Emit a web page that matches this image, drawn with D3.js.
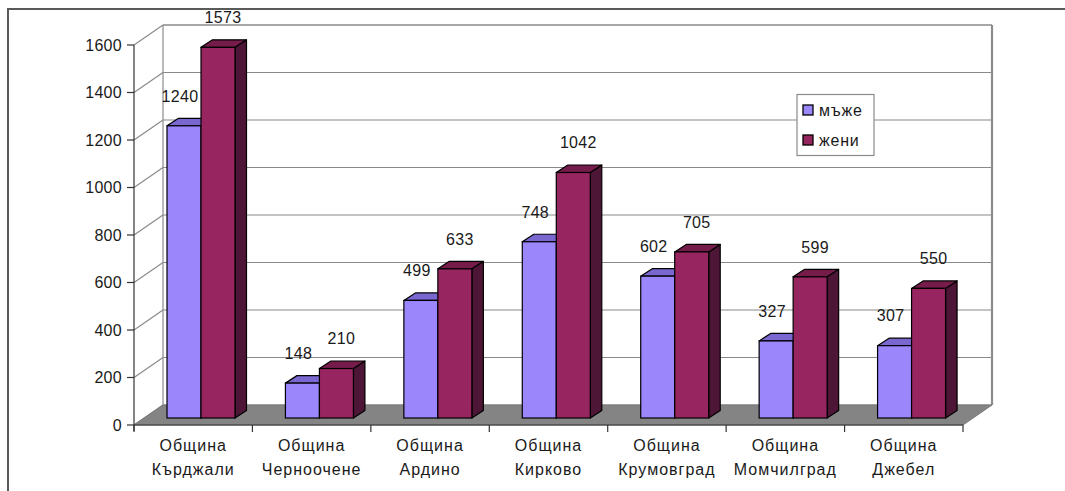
<!DOCTYPE html>
<html><head><meta charset="utf-8">
<script src="https://cdnjs.cloudflare.com/ajax/libs/d3/7.8.5/d3.min.js"></script>
<style>
html,body{margin:0;padding:0;background:#fff;}
svg text{font-family:"Liberation Sans",Arial,sans-serif;fill:#1a1a1a;}
</style></head>
<body>
<script>
const categories = ["Община Кърджали","Община Черноочене","Община Ардино","Община Кирково","Община Крумовград","Община Момчилград","Община Джебел"];
const seriesNames = ["мъже","жени"];
const men =   [1240,148,499,748,602,327,307];
const women = [1573,210,633,1042,705,599,550];
const yTicks = [0,200,400,600,800,1000,1200,1400,1600];

const W=1065,H=491;
const svg=d3.select("body").append("svg").attr("width",W).attr("height",H);

// layout
const fx0=134, fx1=963, fy0=425, plotH=380;
const wallDx=29, wallDy=-20;
const barSx=10, barSy=-7, barDx=11.5, barDy=-7.5;
const barOffset=23;

const y=d3.scaleLinear().domain([0,1600]).range([0,plotH]);
const yBar=d3.scaleLinear().domain([0,1600]).range([0,377]);
const x0=d3.scaleBand().domain(categories).range([fx0,fx1]);
const x1=d3.scaleBand().domain(seriesNames).range([0,68]);

const colors={
  "мъже":{front:"#9b86fc",top:"#7a68d0",side:"#4f4390"},
  "жени":{front:"#962560",top:"#751c4b",side:"#4d1536"}
};

// outer frame
svg.append("path").attr("d",`M8,${H} L8,9 L${W},9`).attr("fill","none").attr("stroke","#5a5a5a").attr("stroke-width",2);

// back wall gridlines
const g=svg.append("g");
yTicks.forEach(t=>{
  const yb=fy0+wallDy-y(t);
  g.append("line").attr("x1",fx0+wallDx).attr("x2",fx1+wallDx).attr("y1",yb).attr("y2",yb)
   .attr("stroke","#8a8a8a").attr("stroke-width",t===1600?1.6:1.2);
  g.append("line").attr("x1",fx0).attr("y1",fy0-y(t)).attr("x2",fx0+wallDx).attr("y2",yb)
   .attr("stroke","#8a8a8a").attr("stroke-width",1.2);
});
g.append("line").attr("x1",fx0+wallDx).attr("x2",fx0+wallDx).attr("y1",fy0+wallDy-plotH).attr("y2",fy0+wallDy).attr("stroke","#8a8a8a").attr("stroke-width",1.2);
g.append("line").attr("x1",fx1+wallDx).attr("x2",fx1+wallDx).attr("y1",fy0+wallDy-plotH).attr("y2",fy0+wallDy).attr("stroke","#8c8c8c").attr("stroke-width",2.2);

// floor
svg.append("polygon").attr("points",[[fx0,fy0],[fx1,fy0],[fx1+wallDx,fy0+wallDy],[fx0+wallDx,fy0+wallDy]].map(p=>p.join(",")).join(" "))
  .attr("fill","#848484").attr("stroke","#7a7a7a").attr("stroke-width",1);

// axes
const yAxis=svg.append("g");
yAxis.append("line").attr("x1",fx0).attr("x2",fx0).attr("y1",fy0-plotH).attr("y2",fy0+6).attr("stroke","#333").attr("stroke-width",1.2);
yTicks.forEach(t=>{
  const yy=fy0-y(t);
  yAxis.append("line").attr("x1",fx0-7).attr("x2",fx0).attr("y1",yy).attr("y2",yy).attr("stroke","#333").attr("stroke-width",1.2);
  yAxis.append("text").attr("x",fx0-12).attr("y",yy).attr("dy","0.36em").attr("text-anchor","end")
    .style("font-size","16px").style("letter-spacing","0.3px").text(t);
});
const xAxis=svg.append("g");
xAxis.append("line").attr("x1",fx0).attr("x2",fx1).attr("y1",fy0).attr("y2",fy0).attr("stroke","#333").attr("stroke-width",1.2);
categories.forEach((c,i)=>{
  xAxis.append("line").attr("x1",x0(c)).attr("x2",x0(c)).attr("y1",fy0).attr("y2",fy0+7).attr("stroke","#333").attr("stroke-width",1.2);
  const parts=c.split(" ");
  const cx=x0(c)+x0.bandwidth()/2;
  parts.forEach((p,j)=>{
    xAxis.append("text").attr("x",cx).attr("y",445+j*24).attr("dy","0.36em").attr("text-anchor","middle")
      .style("font-size","16px").style("letter-spacing","1px").text(p);
  });
});
xAxis.append("line").attr("x1",fx1).attr("x2",fx1).attr("y1",fy0).attr("y2",fy0+7).attr("stroke","#333").attr("stroke-width",1.2);

// bars
const bars=svg.append("g");
const data=categories.map((c,i)=>({c,vals:[men[i],women[i]]}));
data.forEach(d=>{
  seriesNames.forEach((s,k)=>{
    const v=d.vals[k];
    const xl=x0(d.c)+barSx+barOffset+x1(s);
    const w=x1.bandwidth();
    const yb=fy0+barSy;
    const yt=yb-yBar(v);
    const col=colors[s];
    bars.append("polygon").attr("points",[[xl+w,yt],[xl+w+barDx,yt+barDy],[xl+w+barDx,yb+barDy],[xl+w,yb]].map(p=>p.join(",")).join(" "))
      .attr("fill",col.side).attr("stroke","#000").attr("stroke-width",1.2).attr("stroke-linejoin","round");
    bars.append("polygon").attr("points",[[xl,yt],[xl+barDx,yt+barDy],[xl+w+barDx,yt+barDy],[xl+w,yt]].map(p=>p.join(",")).join(" "))
      .attr("fill",col.top).attr("stroke","#000").attr("stroke-width",1.2).attr("stroke-linejoin","round");
    bars.append("rect").attr("x",xl).attr("y",yt).attr("width",w).attr("height",yb-yt)
      .attr("fill",col.front).attr("stroke","#000").attr("stroke-width",1.2);
  });
});
// value labels
data.forEach(d=>{
  seriesNames.forEach((s,k)=>{
    const v=d.vals[k];
    const xl=x0(d.c)+barSx+barOffset+x1(s);
    const w=x1.bandwidth();
    const yt=fy0+barSy-yBar(v);
    svg.append("text").attr("x",xl+w/2+(k===0?-4:5)).attr("y",yt-30).attr("dy","0.36em").attr("text-anchor","middle")
      .style("font-size","16px").style("letter-spacing","0.3px").text(v);
  });
});

// legend
const lg=svg.append("g");
lg.append("rect").attr("x",797).attr("y",94.5).attr("width",77).attr("height",61).attr("fill","#fff").attr("stroke","#8a8a8a").attr("stroke-width",1.2);
seriesNames.forEach((s,k)=>{
  const cy=110+k*30;
  lg.append("rect").attr("x",803).attr("y",cy-5).attr("width",10).attr("height",10)
    .attr("fill",colors[s].front).attr("stroke","#000").attr("stroke-width",1.3);
  lg.append("text").attr("x",819).attr("y",cy).attr("dy","0.36em").style("font-size","16px").style("letter-spacing","0.8px").text(s);
});
</script>
</body></html>
